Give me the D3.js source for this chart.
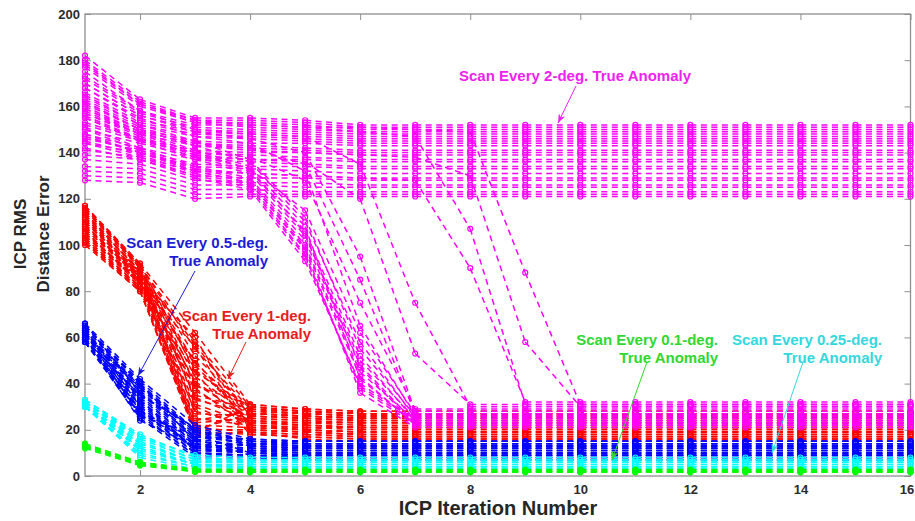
<!DOCTYPE html>
<html>
<head>
<meta charset="utf-8">
<script src="https://cdn.jsdelivr.net/npm/d3@7"></script>
<style>
  body { margin: 0; background: #fff; }
  svg { display: block; font-family: "Liberation Sans", Arial, sans-serif; }
</style>
</head>
<body>
<div id="chart"></div>
<script>
// Each run lists its ICP RMS error for iterations 1, 2, 3, ...
// After its last listed value the run has converged and stays there up to iteration 16.
var iterations = d3.range(1, 17);
var xTicks = [2, 4, 6, 8, 10, 12, 14, 16];
var yTicks = [0, 20, 40, 60, 80, 100, 120, 140, 160, 180, 200];

var scan2deg = [
  [182,163,155,155,154,152], [179,161,154,154,153,151], [177,160,153,153,152,150],
  [175,158,152,152,151,149], [172,157,151,150,149,148], [170,156,150,149,148,147],
  [168,154,149,148,147,146], [166,153,148,147,146,145], [164,152,147,146,145,144],
  [161,150,145,144,144,143], [159,149,144,143,142,141], [157,148,143,142,141,140],
  [155,146,141,140,140,139], [152,145,140,139,138,137], [150,144,138,137,137,136],
  [148,142,137,136,135,134], [146,141,135,134,134,133], [144,140,134,133,132,131],
  [141,138,132,131,130,129], [139,137,130,129,129,128], [137,135,128,127,127,126],
  [134,133,126,126,125,125], [132,131,124,124,123,123], [130,129,122,122,122,122],
  [128,127,120,121,121,121],
  // runs that leave the plateau and converge near 20-32
  [150,141,133,128,100,45,24], [155,145,137,131,104,50,25], [160,149,141,134,108,42,23],
  [145,139,131,126,96,38,22], [165,152,145,137,112,55,26], [142,137,129,124,93,40,24],
  [157,147,139,133,115,62,27], [147,140,132,127,98,36,21],
  [151,142,134,129,102,48,23], [156,146,138,132,106,52,24], [148,140,132,127,99,43,22],
  [162,150,143,136,110,58,25], [144,138,130,125,95,39,23], [159,148,140,133,105,47,22],
  [170,156,149,146,140,95,28], [163,151,144,142,135,85,27],
  [158,148,140,138,128,75,29], [168,155,147,144,132,65,26],
  [173,158,150,148,147,135,75,30], [153,146,139,137,136,120,53,31],
  [178,161,153,151,150,149,147,107,31], [147,140,133,131,130,129,128,90,32],
  [180,162,154,152,151,151,150,149,88,31], [162,150,143,141,140,139,138,130,58,30]
];

var scan1deg = [
  [117,92,62,31,29,28], [116,91,58,30,28,27], [115,91,55,29,28,27], [114,90,52,28,27,26],
  [113,89,49,27,26,25], [112,89,46,27,26,25], [111,88,43,26,25,24], [110,87,40,25,24,23],
  [109,86,37,24,23,23], [108,86,34,24,23,22], [107,85,31,23,22,21], [106,84,28,22,21,21],
  [105,84,25,22,21,20], [104,83,22,21,20,19], [103,82,20,20,19,18], [102,81,18,19,18,17],
  [101,80,19,18,17,16], [100,80,21,19,16,15], [116,90,20,27,26,25], [114,88,24,28,27,26],
  [111,86,19,30,28,27], [109,85,60,20,19,18], [106,83,56,19,18,17], [103,82,50,22,20,19],
  [101,81,45,18,17,16], [115,91,27,26,25,24], [108,87,35,29,27,26], [104,84,41,24,22,21],
  [116,92,45,30,28,27], [113,89,33,27,26,25], [110,88,57,26,25,24], [107,86,23,25,24,23],
  [105,85,38,21,20,19], [102,82,30,20,19,18], [117,91,39,31,29,28], [112,87,48,23,22,21]
];

var scan05deg = [
  [66,42,22,16,15], [65,41,20,15,15], [65,40,19,15,14], [64,39,18,14,14], [64,38,17,14,13],
  [63,37,16,13,13], [63,36,15,13,12], [62,35,14,12,12], [62,34,14,12,11], [61,33,13,11,11],
  [61,32,12,11,10], [60,31,12,10,10], [60,30,11,10,9], [59,29,10,9,9], [59,28,10,9,8],
  [58,27,9,8,8], [58,26,9,8,7], [58,25,8,7,7], [60,24,13,12,11], [62,26,18,10,9],
  [64,30,12,14,13], [59,35,21,15,14], [63,28,16,9,8], [61,38,19,13,12],
  [65,40,15,13,12], [63,33,11,11,10], [60,27,14,10,9], [66,36,17,16,15], [58,29,10,8,7],
  [62,39,20,14,13]
];

var scan025deg = [
  [33,18,8,7], [33,17,7,7], [32,16,7,6], [32,15,6,6], [32,14,6,6], [31,13,5,5], [31,12,5,5],
  [31,11,5,4], [30,10,4,4], [30,9,4,4], [30,8,3,3], [32,17,9,8], [31,14,6,7], [30,12,5,3]
];

var scan01deg = [
  [14,6,2.5,2.5], [13,5.5,2,2], [13,5,2,2], [12.5,5,2,1.8], [13.5,6,3,2.8], [12,4.5,1.8,1.6]
];

var W = 915, H = 521;
var svg = d3.select('#chart').append('svg').attr('width', W).attr('height', H);

var x = d3.scaleLinear().domain([1, 16]).range([85, 910.5]);
var y = d3.scaleLinear().domain([0, 200]).range([476, 14]);

// axes, MATLAB style: box, inward ticks
var axisColor = '#8f8f8f', labelColor = '#2b2b2b';

function styleAxis(g) {
  g.select('.domain').remove();
  g.selectAll('.tick line').attr('stroke', axisColor).attr('stroke-width', 1);
  g.selectAll('.tick text').attr('fill', labelColor)
    .style('font-size', '13px').style('font-weight', 'bold');
}

var xAxisG = svg.append('g').attr('transform', 'translate(0,476)')
  .call(d3.axisBottom(x).tickValues(xTicks).tickSize(-6).tickPadding(9).tickFormat(d3.format('d')))
  .call(styleAxis);
// last label sits at the window edge: keep it inside
xAxisG.selectAll('.tick text').filter(function (d) { return d === 16; }).attr('x', -4);

svg.append('g').attr('transform', 'translate(0,14)')
  .call(d3.axisTop(x).tickValues(xTicks).tickSize(-6).tickFormat(''))
  .call(styleAxis);
svg.append('g').attr('transform', 'translate(85,0)')
  .call(d3.axisLeft(y).tickValues(yTicks).tickSize(-6).tickPadding(5).tickFormat(d3.format('d')))
  .call(styleAxis);
svg.append('g').attr('transform', 'translate(910.5,0)')
  .call(d3.axisRight(y).tickValues(yTicks).tickSize(-6).tickFormat(''))
  .call(styleAxis);

svg.append('rect')
  .attr('x', x(1)).attr('y', y(200))
  .attr('width', x(16) - x(1)).attr('height', y(0) - y(200))
  .attr('fill', 'none').attr('stroke', axisColor).attr('stroke-width', 1.3);

// runs
function expand(run) {
  return iterations.map(function (it, i) {
    return { x: it, y: run[Math.min(i, run.length - 1)] };
  });
}

var line = d3.line().x(function (d) { return x(d.x); }).y(function (d) { return y(d.y); });

function drawRuns(runs, color) {
  var g = svg.append('g');
  runs.forEach(function (run) {
    var pts = expand(run);
    var segs = d3.pairs(pts);
    g.append('g').selectAll('path').data(segs).enter().append('path')
      .attr('d', line)
      .attr('fill', 'none')
      .attr('stroke', color)
      .attr('stroke-width', 1.5)
      .attr('stroke-dasharray', '6,4.5');
    g.append('g').selectAll('circle').data(pts).enter().append('circle')
      .attr('cx', function (d) { return x(d.x); })
      .attr('cy', function (d) { return y(d.y); })
      .attr('r', 2.5)
      .attr('fill', 'none')
      .attr('stroke', color)
      .attr('stroke-width', 1.2);
  });
}

drawRuns(scan1deg, '#ff0000');
drawRuns(scan2deg, '#ff00ff');
drawRuns(scan05deg, '#0000ff');
drawRuns(scan025deg, '#00ffff');
drawRuns(scan01deg, '#00ff00');

// annotations
var defs = svg.append('defs');
function arrowHead(id, color) {
  defs.append('marker').attr('id', id)
    .attr('markerUnits', 'userSpaceOnUse')
    .attr('markerWidth', 9).attr('markerHeight', 7)
    .attr('refX', 9).attr('refY', 3.5).attr('orient', 'auto')
    .append('path').attr('d', 'M0,0 L9,3.5 L0,7 L2.5,3.5 z').attr('fill', color);
}

function note(lines, xEnd, yFirst, anchor, color, arrow) {
  var t = svg.append('text').attr('fill', color)
    .style('font-size', '15px').style('font-weight', 'bold')
    .attr('text-anchor', anchor);
  lines.forEach(function (s, i) {
    t.append('tspan').attr('x', xEnd).attr('y', yFirst + i * 18).text(s);
  });
  var id = 'ah' + color.replace('#', '');
  arrowHead(id, color);
  svg.append('line')
    .attr('x1', arrow[0]).attr('y1', arrow[1]).attr('x2', arrow[2]).attr('y2', arrow[3])
    .attr('stroke', color).attr('stroke-width', 1)
    .attr('marker-end', 'url(#' + id + ')');
}

note(['Scan Every 2-deg. True Anomaly'], 575, 81, 'middle', '#ee22ee', [576, 86, 558, 123]);
note(['Scan Every 0.5-deg.', 'True Anomaly'], 268, 248, 'end', '#1c1cd6', [195, 271, 138, 376]);
note(['Scan Every 1-deg.', 'True Anomaly'], 311, 321, 'end', '#e81c1c', [246, 342, 228, 379]);
note(['Scan Every 0.1-deg.', 'True Anomaly'], 718, 345, 'end', '#2fd82f', [647, 362, 612, 460]);
note(['Scan Every 0.25-deg.', 'True Anomaly'], 882, 345, 'end', '#33d8de', [803, 362, 772, 453]);

// axis titles
svg.append('text')
  .attr('x', 498).attr('y', 515)
  .attr('text-anchor', 'middle').attr('fill', '#262626')
  .style('font-size', '20px').style('font-weight', 'bold')
  .text('ICP Iteration Number');

var yl = svg.append('text')
  .attr('transform', 'translate(0,234) rotate(-90)')
  .attr('text-anchor', 'middle').attr('fill', '#262626')
  .style('font-size', '17px').style('font-weight', 'bold');
yl.append('tspan').attr('x', 0).attr('y', 26).text('ICP RMS');
yl.append('tspan').attr('x', 0).attr('y', 49).text('Distance Error');
</script>
</body>
</html>
